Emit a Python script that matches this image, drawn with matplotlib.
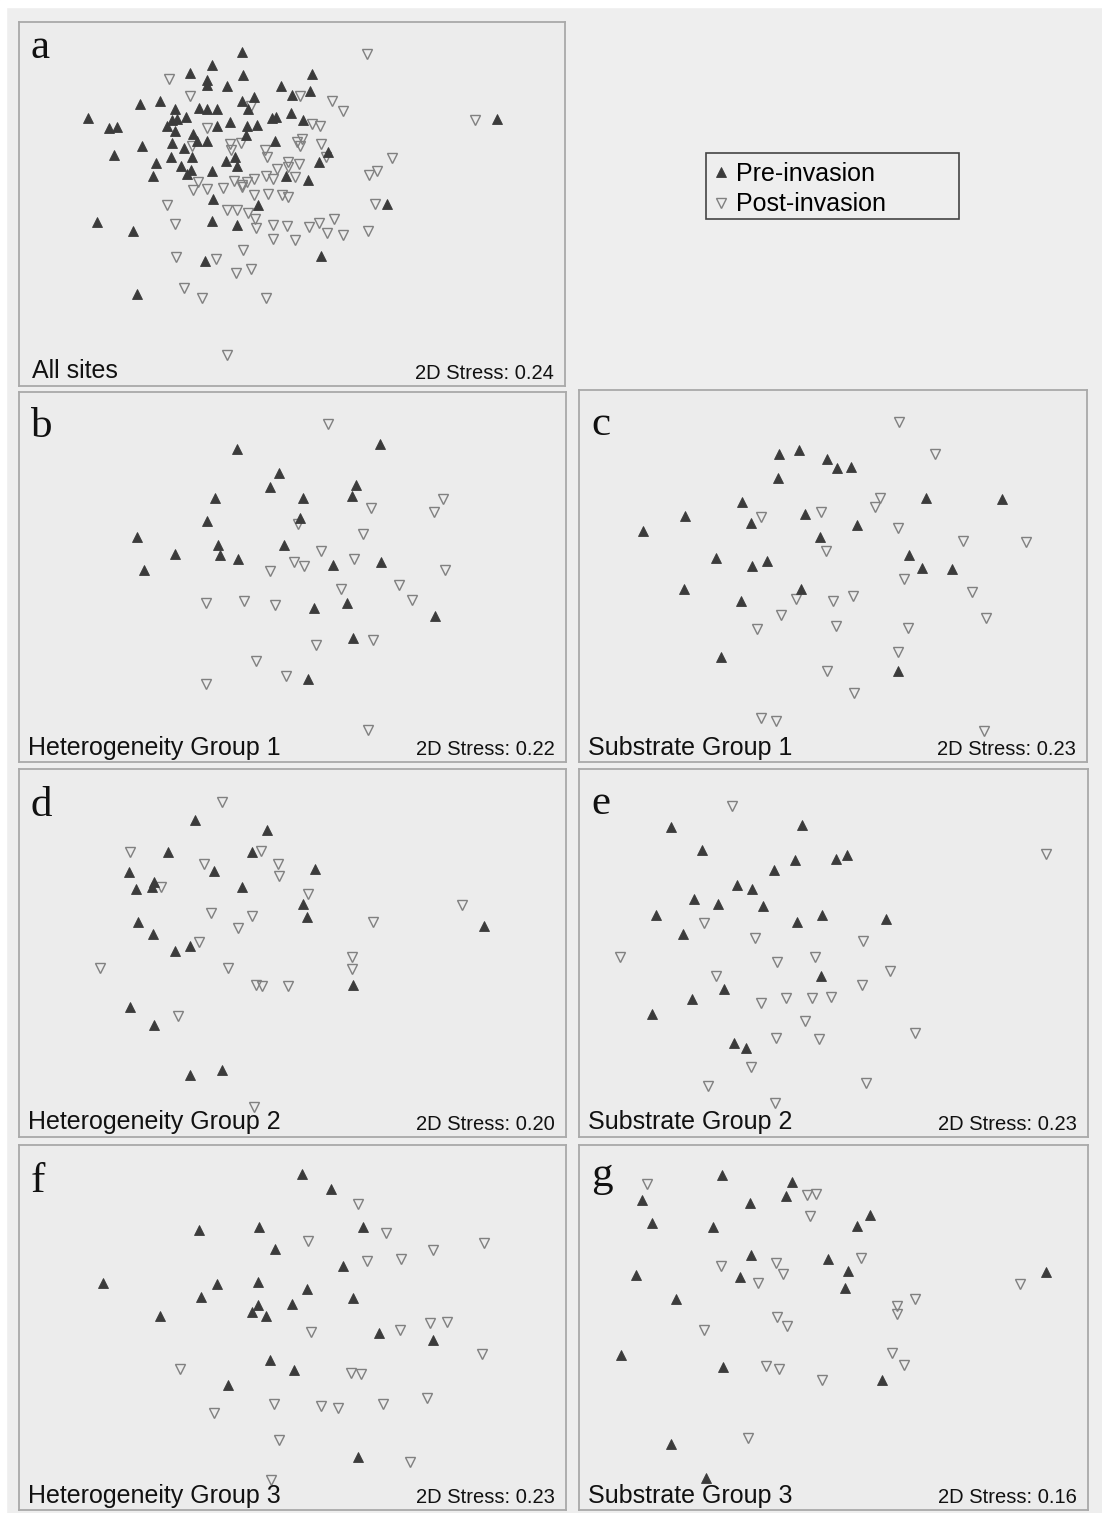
import matplotlib
matplotlib.use("Agg")
import matplotlib.pyplot as plt
from matplotlib.patches import Rectangle

W, H = 1102, 1513

# ---- data: NMDS coordinates (arbitrary units) ----
# panel a: all sites
a_pre_x = [241.7, 212, 190, 206.7, 206.7, 226.7, 242.7, 281, 292, 254, 241.7, 247.7,
           140, 160, 175, 199, 206.7, 216.7, 186, 176.7, 171.7, 167, 175, 87.7, 109,
           116.7, 193, 196.7, 206.7, 217, 230, 246.7, 257, 246, 272, 276, 291, 141.7,
           171.7, 184, 114, 171, 192, 155.7, 181, 191, 186.7, 212, 225.7, 235, 236.7,
           275, 285.7, 153, 212.7, 258.3, 96.7, 133, 211.7, 236.7, 205, 136.7,
           312, 310, 303, 327.7, 319, 308, 387, 496.7, 320.7]
a_pre_y = [52, 65, 73, 80, 85, 86, 75, 86, 95, 97, 101, 109,
           104, 101, 109, 108, 109, 109, 117, 119, 120, 126, 131, 118, 128,
           127, 134, 141, 141, 126, 122, 126, 125, 135, 118, 117, 113, 146,
           143, 148, 155, 157, 157, 163, 166, 170, 174, 171, 161, 157, 166,
           141, 176, 176, 199, 205, 222, 231, 221, 225, 261, 294,
           74, 91, 120, 152, 162, 180, 204, 119, 256]
a_post_x = [169, 190, 251, 206.7, 230, 231, 241, 191.7, 265, 266.7, 276.7, 287.7, 288,
            296.7, 198, 193, 207, 223, 234, 241.7, 246.7, 241.7, 254, 266, 273, 295,
            254, 267.7, 281.7, 288, 166.7, 227, 236.7, 247.7, 255, 256, 175, 273,
            286.7, 273, 295, 242.7, 175.7, 215.7, 236, 251, 184, 202, 265.7, 227,
            366.7, 300, 331.7, 343, 311.7, 320, 301.7, 300, 320.7, 325.7, 299, 391.7,
            376.7, 369, 375, 309, 319, 334, 326.7, 342.7, 368, 475]
a_post_y = [79, 96, 106, 128, 144, 150, 143, 146, 150, 157, 169, 162, 167,
            142, 182, 190, 189, 188, 181, 185, 182, 187, 179, 176, 179, 177,
            195, 194, 195, 197, 205, 210, 210, 213, 219, 228, 224, 225,
            226, 239, 240, 250, 257, 259, 273, 269, 288, 298, 298, 355,
            54, 96, 101, 111, 124, 126, 139, 146, 144, 157, 164, 158,
            171, 175, 204, 227, 223, 219, 233, 235, 231, 120]

# panel b: heterogeneity group 1
b_pre_x = [207.7, 345, 248.3, 239, 321.7, 318.3, 186.7, 271, 268.3, 179, 112.3, 189.3,
           252.7, 148.3, 191.7, 209, 119, 300, 346, 281, 313.3, 397.7, 319, 276]
b_pre_y = [56.7, 51.7, 81, 95, 93.3, 104.3, 105.7, 106, 125.7, 129.3, 145, 152.7,
           153.3, 162.3, 163.3, 166.7, 177.7, 173.3, 170, 215.7, 211, 224, 245.7, 286.7]
b_post_x = [295, 335.7, 405, 396.7, 265.7, 328.3, 288.3, 320, 262.7, 272.3, 239.3, 407.3,
            362.7, 307.3, 375.7, 178.3, 214, 244.3, 283.3, 338.3, 225.7, 255, 178.3, 333.3]
b_post_y = [31.7, 115.7, 106.7, 120, 131.7, 141.7, 159.3, 166.7, 170, 174, 179.3, 178.3,
            192.7, 197.3, 208.3, 211, 209, 212.7, 253.3, 248.3, 269.3, 284.3, 292.3, 338.3]

# panel c: substrate group 1
c_pre_x = [200, 220, 248.3, 257.7, 271.7, 199, 163.3, 106, 172.3, 226, 278.3, 346.7, 423.3,
           64.3, 241, 137.3, 173.3, 188.3, 330, 343.3, 372.7, 105, 222.3, 161.7, 141.7, 319]
c_pre_y = [64, 60, 69.3, 77.7, 77.3, 88.3, 111.7, 125.7, 132.7, 124, 135, 108.3, 109,
           140.7, 146.7, 167.7, 175.7, 170.7, 165, 177.7, 179, 199.3, 198.7, 211, 267.3, 281]
c_post_x = [320, 355.7, 301, 295.7, 242.3, 181.7, 319, 384.3, 446.7, 246.7, 325, 393.3, 274.3,
            254, 216.7, 201.7, 407.3, 178.3, 256.7, 329, 319, 247.7, 275, 182.3, 197.3, 405]
c_post_y = [32.3, 64, 108.3, 117.3, 121.7, 126.7, 137.7, 150.7, 151.7, 161, 189, 202.3, 206,
            211, 209, 225, 228.3, 239, 235.7, 238.3, 261.7, 281, 303.3, 328.3, 330.7, 341]

# panel d: heterogeneity group 2
d_pre_x = [167.7, 236, 141.7, 221.7, 185.7, 282.7, 104, 128.3, 126, 111, 212.7, 270.7,
           275, 112.7, 127.7, 162.3, 148.3, 444, 319, 105.3, 128.3, 162.7, 193.3]
d_pre_y = [50.7, 60.7, 83.3, 82.7, 101.7, 100, 103.3, 113.3, 118.3, 120, 118.3, 135,
           148.3, 152.7, 165, 176.7, 182.3, 156.7, 216, 238.3, 255.7, 306, 301]
d_post_x = [193.3, 105.7, 231, 175.7, 246.7, 247.7, 135, 276, 422.7, 183.3, 221.7, 208.3,
            338.3, 171.7, 318.3, 317.7, 76.7, 199, 225.7, 231.7, 256.7, 151, 224.3]
d_post_y = [33.3, 83.3, 81.7, 95, 95, 106.7, 118.3, 125, 135.7, 144.3, 146.7, 159.3,
            153.3, 173.3, 188.3, 200, 199, 199, 215.7, 216.7, 216.7, 246.7, 338.3]

# panel e: substrate group 2
e_pre_x = [91.7, 223.3, 123.3, 216, 256.7, 267.7, 195, 157.7, 173.3, 115, 139, 184,
           77.3, 242.7, 218.3, 306.7, 104.3, 241.7, 145, 112.7, 72.7, 155, 166.7]
e_pre_y = [58.3, 55.7, 80.7, 91, 90, 86, 101, 116, 120, 130, 135, 137.3,
           145.7, 145.7, 152.7, 150, 165.3, 207.3, 220, 230, 245, 274, 279.3]
e_post_x = [153.3, 466.7, 125, 176, 284.3, 41, 236, 197.7, 310.7, 136.7, 283.3, 181.7,
            206.7, 232.7, 251.7, 226, 197.3, 240, 336, 171.7, 129.3, 287.3, 196]
e_post_y = [36.7, 85, 154, 169, 171.7, 188.3, 188.3, 192.7, 201.7, 207.3, 215.7, 234,
            229.3, 229.3, 228.3, 251.7, 269.3, 270, 264.3, 297.7, 316.7, 314.3, 334.3]

# panel f: heterogeneity group 3
f_pre_x = [270, 297.7, 171, 229, 328.3, 244, 309, 79, 189, 228.3, 275, 319,
           173.3, 227.7, 221.7, 235.7, 260.7, 134.3, 343.3, 395.7, 239, 262.7, 199.3, 324]
f_pre_y = [29.3, 44.3, 85, 81.7, 81.7, 104.3, 121, 138.3, 139, 136.7, 144.3, 152.7,
           152.3, 160, 166.7, 170.7, 159.3, 171, 188.3, 195, 215, 225, 240, 311.7]
f_post_x = [324, 350.7, 276, 395, 444, 332.3, 365, 278.3, 363.3, 392.3, 409, 442.7,
            153.3, 317.3, 326, 242.7, 288.3, 304, 347.3, 390, 186, 248.3, 373.3, 240.7]
f_post_y = [59, 87.7, 95.7, 105, 98.3, 115.7, 114.3, 186.7, 185, 177.7, 176.7, 209.3,
            224, 227.7, 229.3, 259, 261, 262.7, 259, 252.7, 268.3, 295, 316.7, 335]

# panel g: substrate group 3
g_pre_x = [143.3, 213.3, 207.3, 171, 63.3, 72.7, 134.3, 277.7, 291, 171.7, 249.3,
           269, 265.7, 57.3, 160.7, 97.3, 466.7, 42.3, 144.3, 303.3, 91.7, 126.7]
g_pre_y = [30, 37.3, 50.7, 58, 55, 78.3, 82.3, 81, 70, 110, 114,
           126, 143.3, 130, 131.7, 154.3, 126.7, 210, 221.7, 235, 299, 333.3]
g_post_x = [67.7, 227.7, 236.7, 231, 281.7, 141.7, 197.3, 204, 179.3, 440.7, 335.7,
            318.3, 317.7, 198.3, 208.3, 125, 313.3, 325, 187.3, 200, 243.3, 169]
g_post_y = [39.3, 50, 49, 70.7, 112.7, 120.7, 118.3, 129.3, 137.7, 139, 154.3,
            160.7, 169, 171.7, 181, 185, 208.3, 220, 220.7, 224.3, 235, 293.3]

letters = ['a', 'b', 'c', 'd', 'e', 'f', 'g']
titles = ['All sites', 'Heterogeneity Group 1', 'Substrate Group 1',
          'Heterogeneity Group 2', 'Substrate Group 2',
          'Heterogeneity Group 3', 'Substrate Group 3']
stress = [0.24, 0.22, 0.23, 0.20, 0.23, 0.23, 0.16]

pre = [(a_pre_x, a_pre_y), (b_pre_x, b_pre_y), (c_pre_x, c_pre_y), (d_pre_x, d_pre_y),
       (e_pre_x, e_pre_y), (f_pre_x, f_pre_y), (g_pre_x, g_pre_y)]
post = [(a_post_x, a_post_y), (b_post_x, b_post_y), (c_post_x, c_post_y), (d_post_x, d_post_y),
        (e_post_x, e_post_y), (f_post_x, f_post_y), (g_post_x, g_post_y)]

# panel boxes in pixels (left, top, right, bottom), data origin and x stretch
boxes = [(19, 22, 565, 386), (19, 392, 566, 762), (579, 390, 1087, 762),
         (19, 769, 566, 1137), (579, 769, 1088, 1137),
         (19, 1145, 566, 1510), (579, 1145, 1088, 1510)]
origins = [(0, 0), (20, 392), (579, 390), (20, 769), (579, 769), (20, 1145), (579, 1145)]
xstretch = [1, 1.0446, 1, 1.0446, 1, 1.0446, 1]
letter_dy = [36, 45, 45, 47, 45, 47, 41]

fig = plt.figure(figsize=(W / 100, H / 100), dpi=100, facecolor='#eeeeee')
# thin white margin at the top and left
fig.patches.append(Rectangle((0, 0), 6 / W, 1, transform=fig.transFigure, color='white', zorder=0))
fig.patches.append(Rectangle((0, 1 - 7 / H), 1, 7 / H, transform=fig.transFigure, color='white', zorder=0))


def ftext(x, y, s, **kw):
    fig.text(x / W, 1 - y / H, s, va='baseline', color='#111111', **kw)


handles = None
for i in range(7):
    l, t, r, b = boxes[i]
    ax = fig.add_axes([l / W, 1 - b / H, (r - l) / W, (b - t) / H])
    ax.set_facecolor('#ececec')
    ox, oy = origins[i]
    s = xstretch[i]
    ax.set_xlim((l - ox) / s, (r - ox) / s)
    ax.set_ylim(b - oy, t - oy)
    ax.set_xticks([])
    ax.set_yticks([])
    for sp in ax.spines.values():
        sp.set_color('#a9a9a9')
        sp.set_linewidth(1.3)
    h1, = ax.plot(pre[i][0], pre[i][1], '^', ms=7.8, color='#3b3b3b', mec='#3b3b3b',
                  mew=0.6, ls='none', label='Pre-invasion', zorder=3)
    h2, = ax.plot(post[i][0], post[i][1], 'v', ms=7.8, mfc='none', mec='#808080',
                  mew=1.0, ls='none', label='Post-invasion', zorder=2)
    if handles is None:
        handles = [h1, h2]

    ftext(l + 12, t + letter_dy[i], letters[i], fontsize=31, family='Liberation Serif')
    ftext(l + 9 + (4 if i == 0 else 0), b - 7.5, titles[i], fontsize=18,
          family='Liberation Sans')
    ftext(r - 11, b - 7, '2D Stress: %.2f' % stress[i], fontsize=14.5,
          family='Liberation Sans', ha='right')

# legend: drawn frameless, with its own box behind
fig.patches.append(Rectangle((706 / W, 1 - 219 / H), 253 / W, 66 / H, transform=fig.transFigure,
                             fill=False, edgecolor='#444444', linewidth=1.2, zorder=5))
leg = fig.legend(handles=handles, loc='upper left',
                 bbox_to_anchor=(713 / W, 1 - 162 / H), bbox_transform=fig.transFigure,
                 prop={'family': 'Liberation Sans', 'size': 18},
                 frameon=False, markerscale=0.9, handlelength=0.6, handletextpad=0.3,
                 borderpad=0, labelspacing=0.25, borderaxespad=0)

fig.savefig('out.png', dpi=100, facecolor=fig.get_facecolor())
